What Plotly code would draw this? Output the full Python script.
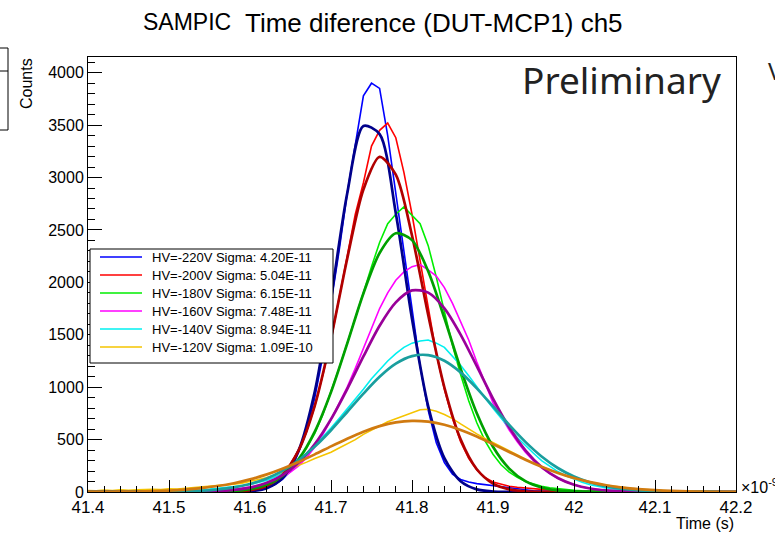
import plotly.graph_objects as go

# ---------------- data ----------------
hist_x = [round(41.40 + 0.01 * i, 2) for i in range(81)]   # bin centres (ns)
fit_x = [round(41.40 + 0.02 * i, 2) for i in range(41)]     # fit sampling points (ns)

labels = ["HV=-220V Sigma: 4.20E-11", "HV=-200V Sigma: 5.04E-11", "HV=-180V Sigma: 6.15E-11",
          "HV=-160V Sigma: 7.48E-11", "HV=-140V Sigma: 8.94E-11", "HV=-120V Sigma: 1.09E-10"]

hist_220 = [0, 0, 0, 0, 0, 1, 0, 1, 1, 2, 2, 3, 3, 4, 5, 6, 8, 10, 13, 17,
            22, 30, 45, 70, 120, 200, 380, 580, 900, 1300, 1800, 2300, 2850, 3300, 3780,
            3900, 3850, 3400, 2850, 2350, 1750, 1200, 780, 470, 280, 170, 120, 95, 80, 70,
            60, 55, 45, 35, 20, 12, 8, 5, 3, 2, 1, 0, 0, 0, 0, 0, 0, 0, 0, 0,
            0, 0, 0, 0, 0, 0, 0, 0, 0, 0, 0]
hist_200 = [0, 0, 0, 1, 0, 1, 1, 1, 2, 2, 2, 2, 3, 3, 4, 5, 6, 8, 10, 13,
            18, 25, 40, 70, 170, 270, 400, 580, 820, 1120, 1450, 1850, 2250, 2650, 2950,
            3300, 3450, 3520, 3380, 3050, 2650, 2200, 1750, 1320, 980, 700, 480, 320, 210, 140,
            95, 72, 55, 45, 36, 30, 25, 20, 15, 10, 7, 5, 3, 2, 1, 1, 0, 0, 0, 0,
            0, 0, 0, 0, 0, 0, 0, 0, 0, 0, 0]
hist_180 = [1, 1, 1, 2, 2, 2, 2, 3, 3, 3, 3, 3, 4, 5, 6, 8, 10, 12, 15, 20,
            28, 38, 55, 85, 140, 210, 300, 420, 560, 740, 950, 1180, 1420, 1650, 1900,
            2150, 2380, 2560, 2650, 2720, 2640, 2560, 2350, 2050, 1720, 1400, 1120, 870, 660, 490,
            360, 260, 190, 140, 100, 75, 55, 40, 30, 22, 16, 12, 8, 6, 4, 3, 2, 1, 1, 0,
            0, 0, 0, 0, 0, 0, 0, 0, 0, 0, 0]
hist_160 = [1, 1, 2, 2, 3, 3, 4, 5, 6, 7, 8, 10, 12, 14, 16, 19, 22, 26, 31, 37,
            45, 56, 75, 100, 140, 190, 250, 330, 430, 550, 690, 840, 1000, 1180, 1370,
            1560, 1750, 1900, 2020, 2100, 2150, 2170, 2120, 2060, 1950, 1800, 1620, 1450, 1240, 1040,
            850, 720, 590, 480, 380, 300, 230, 175, 130, 95, 68, 48, 33, 22, 15, 10, 6, 4, 2, 1,
            1, 0, 0, 0, 0, 0, 0, 0, 0, 0, 0]
hist_140 = [2, 2, 3, 3, 4, 5, 6, 7, 8, 10, 12, 14, 17, 20, 24, 29, 35, 42, 50, 60,
            72, 88, 110, 140, 180, 230, 290, 360, 440, 520, 610, 700, 790, 880, 980,
            1080, 1170, 1250, 1320, 1380, 1420, 1440, 1450, 1420, 1380, 1300, 1210, 1110, 1000, 900,
            800, 700, 610, 520, 440, 370, 300, 245, 195, 155, 120, 92, 70, 52, 38, 28, 20, 14, 10, 7,
            5, 3, 2, 1, 1, 0, 0, 0, 0, 0, 0]
hist_120 = [15, 12, 18, 14, 20, 17, 22, 20, 25, 24, 30, 28, 35, 38, 42, 50, 58, 65, 75, 85,
            100, 115, 135, 160, 190, 220, 255, 285, 320, 350, 380, 420, 460, 500, 550,
            590, 630, 670, 700, 730, 760, 785, 790, 770, 740, 700, 650, 600, 555, 510,
            470, 430, 390, 350, 310, 275, 240, 210, 180, 155, 130, 110, 92, 77, 64, 53, 43, 35, 28, 22,
            17, 13, 10, 8, 6, 5, 4, 3, 2, 2, 1]

fit_220 = [0, 0, 0, 0, 0, 0, 0, 0, 0, 1, 7, 34, 130, 396, 959, 1851, 2848, 3492, 3414, 2660,
           1653, 818, 323, 102, 25, 5, 1, 0, 0, 0, 0, 0, 0, 0, 0, 0, 0, 0, 0, 0, 0]
fit_200 = [0, 0, 0, 0, 0, 0, 0, 0, 1, 4, 17, 57, 163, 397, 825, 1467, 2226, 2886, 3197, 3027,
           2447, 1689, 997, 503, 217, 80, 25, 7, 2, 0, 0, 0, 0, 0, 0, 0, 0, 0, 0, 0, 0]
fit_180 = [0, 0, 0, 0, 0, 0, 0, 1, 3, 10, 27, 68, 154, 314, 577, 953, 1416, 1894, 2280, 2468,
           2403, 2106, 1659, 1177, 751, 431, 223, 103, 43, 16, 6, 2, 0, 0, 0, 0, 0, 0, 0, 0, 0]
fit_160 = [0, 0, 0, 0, 0, 0, 1, 3, 8, 19, 42, 85, 160, 280, 457, 695, 982, 1293, 1586, 1809,
           1923, 1902, 1752, 1502, 1200, 891, 617, 397, 238, 133, 69, 33, 15, 6, 3, 1, 0, 0, 0, 0, 0]
fit_140 = [0, 0, 0, 1, 1, 3, 6, 12, 24, 44, 77, 127, 201, 303, 433, 589, 763, 938, 1099, 1224,
           1296, 1306, 1252, 1141, 989, 816, 640, 478, 339, 229, 147, 90, 52, 29, 15, 8, 4, 2, 1, 0, 0]
fit_120 = [1, 1, 3, 5, 8, 14, 23, 37, 57, 84, 120, 166, 222, 287, 359, 435, 508, 575, 628, 664,
           679, 671, 641, 592, 529, 457, 382, 308, 241, 182, 133, 94, 64, 42, 27, 17, 10, 6, 3, 2, 1]

hists = [hist_220, hist_200, hist_180, hist_160, hist_140, hist_120]
fits = [fit_220, fit_200, fit_180, fit_160, fit_140, fit_120]

hist_colors = ["#0000ff", "#ff0000", "#00ee00", "#ff00ff", "#00f0f0", "#f5c400"]
fit_colors = ["#00008b", "#b00000", "#00a000", "#990099", "#1a9e9e", "#d07a10"]

x_ticks = [41.4, 41.5, 41.6, 41.7, 41.8, 41.9, 42.0, 42.1, 42.2]
x_ticktext = ["41.4", "41.5", "41.6", "41.7", "41.8", "41.9", "42", "42.1", "42.2"]

# ---------------- layout geometry (pixels) ----------------
W, H = 775, 534
L, R, T, B = 88, 39, 57, 42
PW, PH = W - L - R, H - T - B


def px(xp):
    return (xp - L) / PW


def py(yp):
    return (H - B - yp) / PH


fig = go.Figure()
for h, c in zip(hists, hist_colors):
    fig.add_trace(go.Scatter(x=hist_x, y=h, mode="lines", line=dict(color=c, width=1.6),
                             showlegend=False, hoverinfo="skip"))
for f, c in zip(fits, fit_colors):
    fig.add_trace(go.Scatter(x=fit_x, y=f, mode="lines",
                             line=dict(color=c, width=2.7, shape="spline", smoothing=0.8),
                             showlegend=False, hoverinfo="skip"))

font_main = "Liberation Sans, Arial, Helvetica, sans-serif"

shapes = []
annotations = []

# legend box
shapes.append(dict(type="rect", xref="paper", yref="paper", x0=px(90), x1=px(333), y0=py(363), y1=py(249),
                   line=dict(color="black", width=1), fillcolor="white", layer="above"))
for k, (lab, c) in enumerate(zip(labels, hist_colors)):
    yy = 257 + 18 * k
    shapes.append(dict(type="line", xref="paper", yref="paper", x0=px(100), x1=px(142), y0=py(yy), y1=py(yy),
                       line=dict(color=c, width=1.5), layer="above"))
    annotations.append(dict(text=lab, x=px(150), y=py(yy), xref="paper", yref="paper", xanchor="left",
                            yanchor="middle", showarrow=False, font=dict(family=font_main, size=13, color="black")))

# partial stat box at the left edge
shapes.append(dict(type="rect", xref="paper", yref="paper", x0=px(-10), x1=px(8), y0=py(130), y1=py(48),
                   line=dict(color="black", width=1), fillcolor="white"))
shapes.append(dict(type="line", xref="paper", yref="paper", x0=px(-10), x1=px(8), y0=py(71), y1=py(71),
                   line=dict(color="black", width=1)))

# title
annotations.append(dict(text="SAMPIC", x=px(141), y=py(22), xref="paper", yref="paper", xanchor="left",
                        yanchor="middle", showarrow=False, font=dict(family=font_main, size=23, color="black")))
annotations.append(dict(text="Time diference (DUT-MCP1) ch5", x=px(243), y=py(23), xref="paper", yref="paper",
                        xanchor="left", yanchor="middle", showarrow=False,
                        font=dict(family=font_main, size=26, color="black")))
# Preliminary
annotations.append(dict(text="Preliminary", x=px(723), y=py(80), xref="paper", yref="paper", xanchor="right",
                        yanchor="middle", showarrow=False,
                        font=dict(family="Noto Sans, Open Sans", size=37, color="#222")))
# cut-off V at right
annotations.append(dict(text="V", x=px(766), y=py(70), xref="paper", yref="paper", xanchor="left",
                        yanchor="middle", showarrow=False, font=dict(family="Noto Sans", size=24, color="#222")))
# axis titles
annotations.append(dict(text="Counts", x=px(26), y=py(84), xref="paper", yref="paper", textangle=-90,
                        xanchor="center", yanchor="middle", showarrow=False,
                        font=dict(family=font_main, size=16, color="black")))
annotations.append(dict(text="Time (s)", x=px(736), y=py(523), xref="paper", yref="paper", xanchor="right",
                        yanchor="middle", showarrow=False, font=dict(family=font_main, size=16, color="black")))
annotations.append(dict(text="×10<sup>-9</sup>", x=px(739), y=py(486), xref="paper", yref="paper", xanchor="left",
                        yanchor="middle", showarrow=False, font=dict(family=font_main, size=16, color="black")))

fig.update_layout(
    width=W, height=H,
    margin=dict(l=L, r=R, t=T, b=B, pad=0),
    paper_bgcolor="white", plot_bgcolor="white",
    showlegend=False,
    shapes=shapes, annotations=annotations,
    xaxis=dict(range=[41.4, 42.2], tickvals=x_ticks, ticktext=x_ticktext, ticks="inside", ticklen=12,
               tickwidth=1, tickcolor="black", showline=True, linecolor="black", linewidth=1, mirror=True,
               showgrid=False, zeroline=False, tickfont=dict(family=font_main, size=17, color="black"),
               minor=dict(dtick=0.02, tick0=41.4, ticks="inside", ticklen=6, tickcolor="black", showgrid=False)),
    yaxis=dict(range=[0, 4150], dtick=500, tick0=0, ticks="inside", ticklen=14, tickwidth=1, tickcolor="black",
               showline=True, linecolor="black", linewidth=1, mirror=True, showgrid=False, zeroline=False,
               tickfont=dict(family=font_main, size=16, color="black"),
               minor=dict(dtick=100, ticks="inside", ticklen=7, tickcolor="black", showgrid=False)),
)

fig.write_html("out.html", config={"displayModeBar": False},
               post_script="document.body.style.margin='0px';document.body.style.overflow='hidden';")
